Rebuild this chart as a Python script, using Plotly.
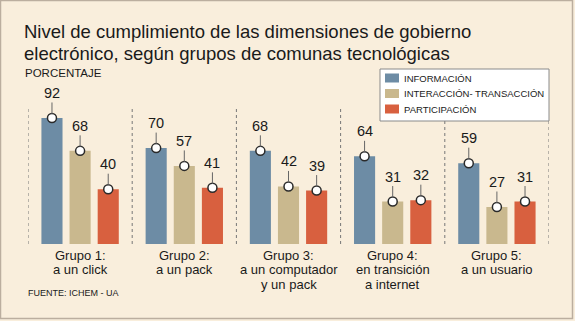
import plotly.graph_objects as go

# ---- data ----
categories = ["Grupo 1:<br>a un click", "Grupo 2:<br>a un pack",
              "Grupo 3:<br>a un computador<br>y un pack",
              "Grupo 4:<br>en transición<br>a internet",
              "Grupo 5:<br>a un usuario"]
series_names = ["INFORMACIÓN", "INTERACCIÓN- TRANSACCIÓN", "PARTICIPACIÓN"]
informacion = [92, 70, 68, 64, 59]
interaccion = [68, 57, 42, 31, 27]
participacion = [40, 41, 39, 32, 31]
series_values = [informacion, interaccion, participacion]
colors = ["#6D8CA5", "#C9B88E", "#D8603F"]

title_lines = ["Nivel de cumplimiento de las dimensiones de gobierno",
               "electrónico, según grupos de comunas tecnológicas"]
unit_label = "PORCENTAJE"
source_label = "FUENTE: ICHEM - UA"

# ---- layout geometry ----
W, H = 575, 321
L, R, T, B = 28, 26, 100, 77
PW, PH = W - L - R, H - T - B
BG = "#F9EEDC"
FONT = "Liberation Sans, Arial, sans-serif"
TXT = "#1a1a1a"

BARGAP = 0.19
GROUPGAP = 0.25
positions = list(range(len(categories)))
slot = (1 - BARGAP) / len(series_values)   # width of one bar slot in data units


def px_x(px):
    return (px - L) / PW


def px_y(py):
    return (H - B - py) / PH


fig = go.Figure()
for name, vals, col in zip(series_names, series_values, colors):
    fig.add_trace(go.Bar(x=positions, y=vals, name=name, marker_color=col,
                         marker_line_width=0, hoverinfo="skip", showlegend=False))

annotations = []
for j, vals in enumerate(series_values):
    xs = [p + (j - 1) * slot for p in positions]
    fig.add_trace(go.Scatter(x=xs, y=vals, mode="markers", showlegend=False,
                             hoverinfo="skip",
                             marker=dict(size=9, color="white",
                                         line=dict(color="#2a2a2a", width=1.5))))
    for x, v in zip(xs, vals):
        annotations.append(dict(x=x, y=v, xref="x", yref="y", text=str(v),
                                showarrow=True, arrowhead=0, arrowwidth=1,
                                arrowcolor="#666", ax=0, ay=-25, standoff=4,
                                font=dict(family=FONT, size=14.5, color=TXT)))

# category labels, one line at a time for tight leading
for p, lab in zip(positions, categories):
    for i, line in enumerate(lab.split("<br>")):
        annotations.append(dict(x=p, xref="x", yref="paper", y=px_y(255 + i * 14.5),
                                yanchor="middle", text=line, showarrow=False,
                                borderpad=0,
                                font=dict(family=FONT, size=13, color=TXT)))

# title, unit, source
for i, line in enumerate(title_lines):
    annotations.append(dict(xref="paper", yref="paper", x=px_x(23), y=px_y(32 + i * 21),
                            xanchor="left", yanchor="middle", text=line, showarrow=False,
                            borderpad=0,
                            font=dict(family=FONT, size=18.5, color=TXT)))
annotations.append(dict(xref="paper", yref="paper", x=px_x(23), y=px_y(73),
                        xanchor="left", yanchor="middle", text=unit_label, showarrow=False,
                        font=dict(family=FONT, size=11.5, color=TXT)))
annotations.append(dict(xref="paper", yref="paper", x=px_x(26), y=px_y(293),
                        xanchor="left", yanchor="middle", text=source_label, showarrow=False,
                        font=dict(family=FONT, size=9, color=TXT)))

shapes = []
# dotted group separators
for i in range(len(categories) + 1):
    shapes.append(dict(type="line", xref="x", yref="y", x0=i - 0.5, x1=i - 0.5,
                       y0=0, y1=100, layer="below",
                       line=dict(color="#777", width=1, dash="dot")))

# legend box (custom, for compact rows)
LEG_L, LEG_T, LEG_R, LEG_B = 380, 69, 549, 121
ROW0, ROW_STEP = 78, 15.5
shapes.append(dict(type="rect", xref="paper", yref="paper",
                   x0=px_x(LEG_L), x1=px_x(LEG_R), y0=px_y(LEG_B), y1=px_y(LEG_T),
                   fillcolor="white", line=dict(color="#8a8a8a", width=1), layer="above"))
for i, (name, col) in enumerate(zip(series_names, colors)):
    cy = ROW0 + i * ROW_STEP
    shapes.append(dict(type="rect", xref="paper", yref="paper",
                       x0=px_x(LEG_L + 5), x1=px_x(LEG_L + 19),
                       y0=px_y(cy + 4.5), y1=px_y(cy - 4.5),
                       fillcolor=col, line=dict(width=0), layer="above"))
    annotations.append(dict(xref="paper", yref="paper", x=px_x(LEG_L + 23), y=px_y(cy),
                            xanchor="left", yanchor="middle", text=name, showarrow=False,
                            borderpad=0,
                            font=dict(family=FONT, size=9.5, color=TXT)))

# frame
shapes.append(dict(type="rect", xref="paper", yref="paper",
                   x0=px_x(0.5), x1=px_x(W - 2.5), y0=px_y(H - 2.5), y1=px_y(0.5),
                   line=dict(color="#BBAE9F", width=1.5), layer="below"))

fig.update_layout(
    width=W, height=H, margin=dict(l=L, r=R, t=T, b=B, pad=0),
    paper_bgcolor=BG, plot_bgcolor=BG,
    barmode="group", bargap=BARGAP, bargroupgap=GROUPGAP,
    xaxis=dict(showticklabels=False, showgrid=False, zeroline=False, showline=False,
               ticks="", range=[-0.5, 4.5], fixedrange=True),
    yaxis=dict(range=[0, PH / 1.37], visible=False, fixedrange=True),
    showlegend=False,
    annotations=annotations, shapes=shapes,
)

fig.write_html("out.html", config={"displayModeBar": False})
